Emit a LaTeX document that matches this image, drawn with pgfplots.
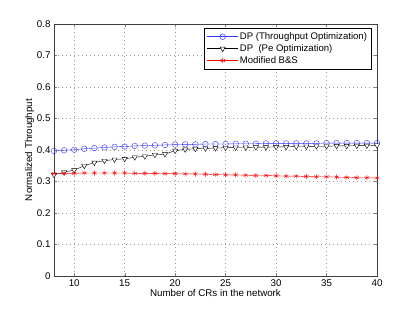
\documentclass[border=0pt]{standalone}
\usepackage{pgfplots}
\pgfplotsset{compat=1.18}
\usepackage{fontspec}
\setmainfont{Liberation Sans}
\begin{document}
\begin{tikzpicture}
\begin{axis}[
  scale only axis, width=323bp, height=252bp,
  xmin=8, xmax=40, ymin=0, ymax=0.8,
  xtick={10,15,...,40}, ytick={0,0.1,...,0.8},
  yticklabel style={/pgf/number format/fixed, /pgf/number format/precision=1},
  /pgf/number format/assume math mode=true,
  tick align=inside, major tick length=3bp,
  tick label style={font=\fontsize{9.8}{11}\selectfont},
  label style={font=\fontsize{9.8}{11}\selectfont},
  grid=major, grid style={dash pattern=on 0.8pt off 3.2pt, gray!80},
  axis line style={black!75, line width=0.6pt},
  xlabel={Number of CRs in the network}, ylabel={Normalized Throughput},
  xlabel style={yshift=4bp}, ylabel style={yshift=-4bp},
  legend image code/.code={\draw[mark repeat=2,mark phase=2] plot coordinates {(0bp,0bp)(15.5bp,0bp)(31bp,0bp)};},
  legend style={at={(1,1)}, xshift=-5.3bp, yshift=-4.3bp, anchor=north east, font=\fontsize{9.6}{11}\selectfont,
    draw=black, line width=0.5pt, inner xsep=3pt, inner ysep=2.5pt, row sep=0.5pt, cells={anchor=west},
    nodes={inner sep=1.5pt}},
  legend cell align=left,
]
\addplot[blue!80, mark=o, mark size=2.8bp, mark options={solid, fill=white}] coordinates {
(8,0.397)(9,0.399)(10,0.401)(11,0.404)(12,0.406)(13,0.408)(14,0.410)(15,0.411)(16,0.413)(17,0.414)(18,0.415)(19,0.416)(20,0.417)(21,0.418)(22,0.418)(23,0.419)(24,0.419)(25,0.419)(26,0.420)(27,0.420)(28,0.420)(29,0.421)(30,0.421)(31,0.421)(32,0.421)(33,0.421)(34,0.421)(35,0.422)(36,0.422)(37,0.422)(38,0.422)(39,0.422)(40,0.422)};
\addlegendentry{DP (Throughput Optimization)}
\addplot[black, mark=triangle*, mark size=3bp, mark options={solid, fill=white, rotate=180}] coordinates {
(8,0.321)(9,0.330)(10,0.336)(11,0.350)(12,0.360)(13,0.366)(14,0.370)(15,0.372)(16,0.377)(17,0.380)(18,0.385)(19,0.387)(20,0.398)(21,0.402)(22,0.404)(23,0.405)(24,0.406)(25,0.407)(26,0.408)(27,0.408)(28,0.409)(29,0.409)(30,0.410)(31,0.410)(32,0.411)(33,0.411)(34,0.412)(35,0.412)(36,0.413)(37,0.413)(38,0.414)(39,0.414)(40,0.415)};
\addlegendentry{DP\ \ (Pe Optimization)}
\addplot[red, mark=asterisk, mark size=2.6bp, mark options={solid}] coordinates {
(8,0.325)(9,0.326)(10,0.326)(11,0.327)(12,0.327)(13,0.327)(14,0.327)(15,0.327)(16,0.326)(17,0.326)(18,0.326)(19,0.325)(20,0.325)(21,0.324)(22,0.324)(23,0.323)(24,0.322)(25,0.321)(26,0.321)(27,0.320)(28,0.319)(29,0.319)(30,0.318)(31,0.317)(32,0.317)(33,0.316)(34,0.315)(35,0.315)(36,0.314)(37,0.313)(38,0.312)(39,0.312)(40,0.311)};
\addlegendentry{Modified B\&S}
\end{axis}
\path ([xshift=-54bp,yshift=-36bp]current axis.south west) rectangle ([xshift=38bp,yshift=24bp]current axis.north east);
\end{tikzpicture}
\end{document}
